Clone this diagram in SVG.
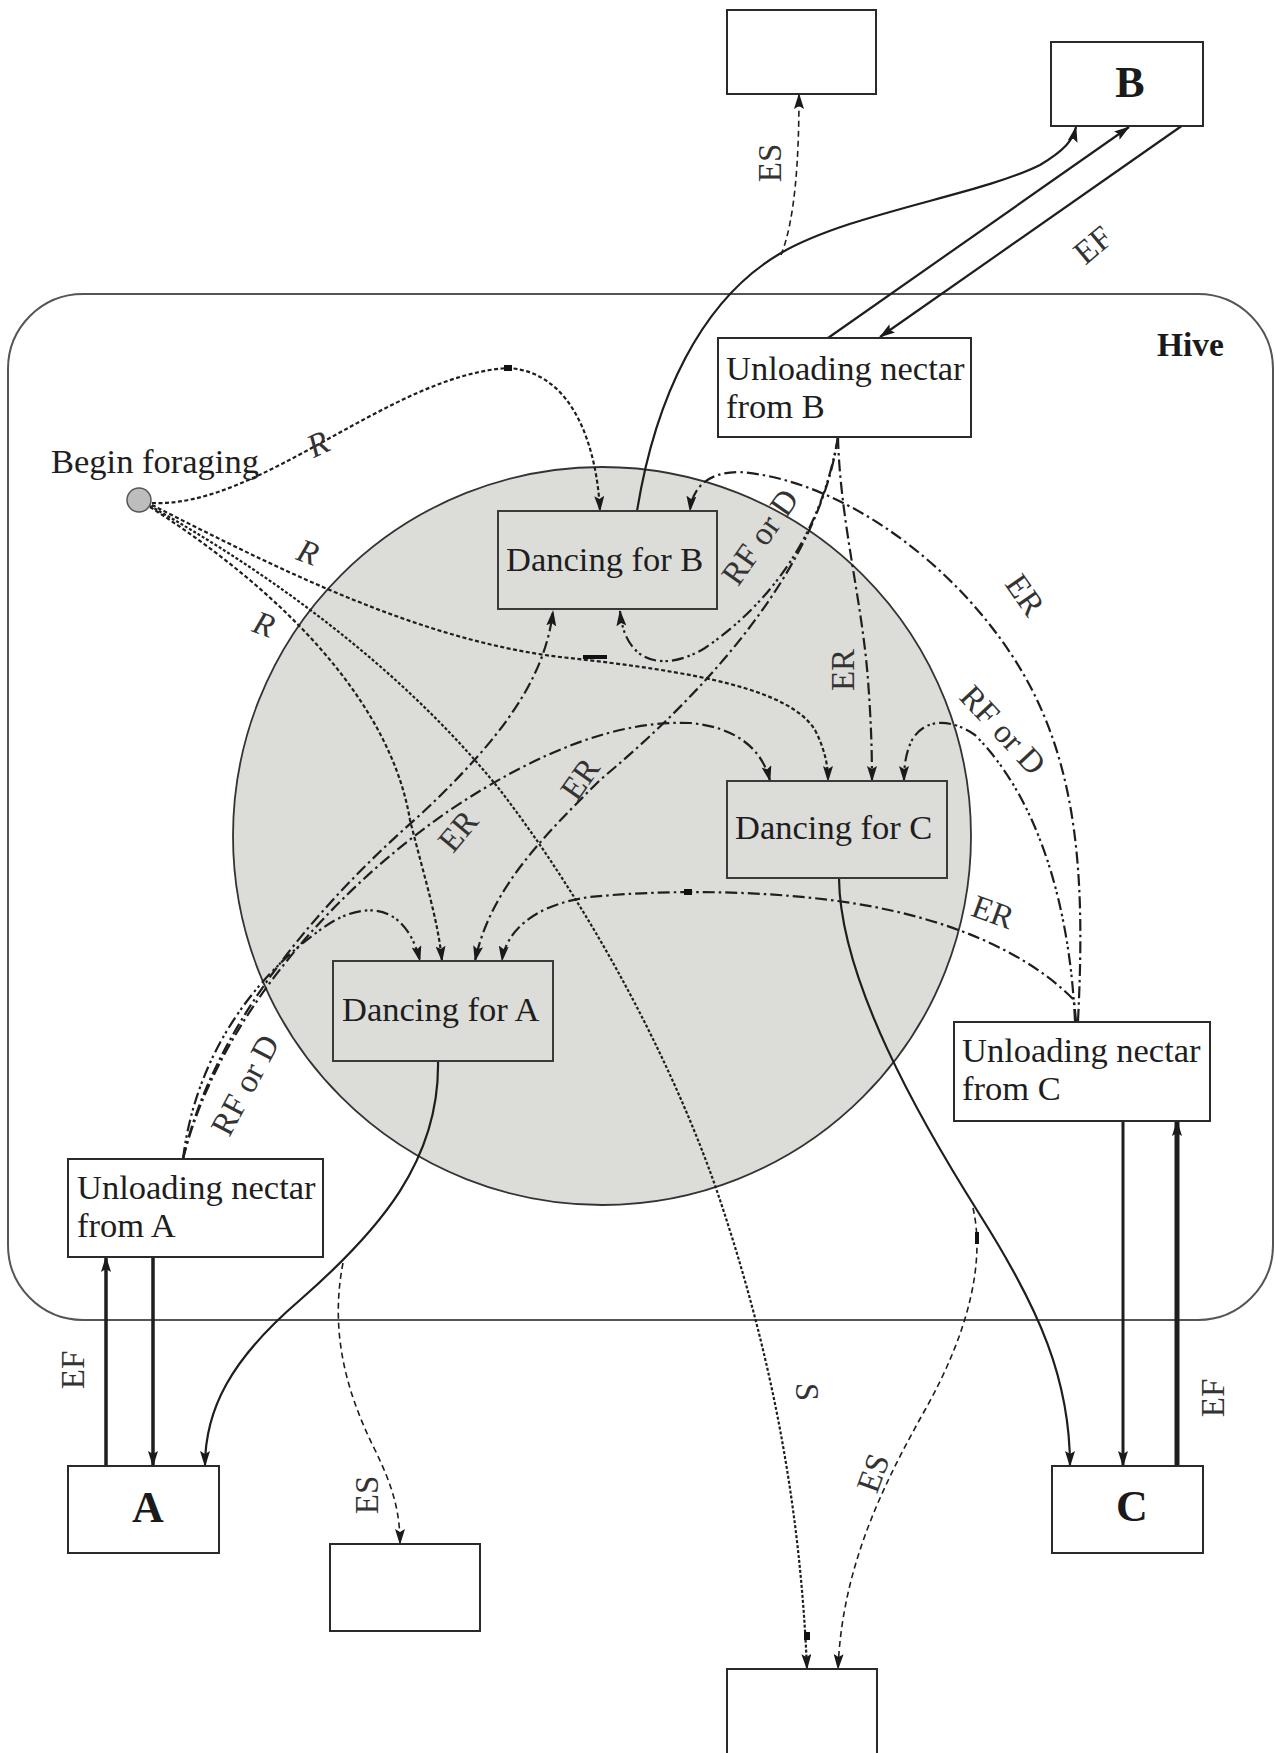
<svg xmlns="http://www.w3.org/2000/svg" width="1275" height="1753" viewBox="0 0 1275 1753">
<defs>
<marker id="ah" viewBox="0 0 16 10" refX="15" refY="5" markerWidth="16" markerHeight="10" markerUnits="userSpaceOnUse" orient="auto"><path d="M0,0 L16,5 L0,10 L3,5 z" fill="#1a1a1a"/></marker>
</defs>
<style>
.box{fill:#fff;stroke:#2a2a2a;stroke-width:2}
.dbox{fill:#dcdcd9;stroke:#3a3a3a;stroke-width:2}
.t{font-family:"Liberation Serif","Times New Roman",serif;font-size:34.5px;fill:#1e1e1e}
.lbl{font-family:"Liberation Serif","Times New Roman",serif;font-size:33px;fill:#333}
.it{font-style:italic}
.big{font-family:"Liberation Serif","Times New Roman",serif;font-size:44px;font-weight:bold;fill:#1a1a1a}
.hv{font-family:"Liberation Serif","Times New Roman",serif;font-size:33.5px;font-weight:bold;fill:#1a1a1a}
.c{fill:none;stroke:#1e1e1e;stroke-width:2.2}
.arr{marker-end:url(#ah)}
.r{stroke-dasharray:4 2.5}
.er{stroke-dasharray:12 4 2.5 4}
.rf{stroke-dasharray:12 4 2.5 3 2.5 4}
.es{stroke-width:1.6;stroke-dasharray:6 4}
.s{stroke-dasharray:3 2}
.mk{fill:#111}
</style>

<g id="background">
<rect id="hive" x="8" y="294" width="1265" height="1026" rx="75" fill="none" stroke="#555" stroke-width="2"/>
<circle cx="602" cy="836" r="369" fill="#dcdcd9" stroke="#333" stroke-width="1.8"/>
<text class="hv" x="1157" y="356">Hive</text>
</g>

<g id="connectors">
<!-- R from Begin foraging -->
<path class="c r arr" d="M152,503 C260,508 390,375 508,368 C575,372 597,450 600,511"/>
<path class="c r arr" d="M152,505 C280,570 420,640 560,657 C700,672 790,690 815,730 C825,750 828,765 828,781"/>
<path class="c r arr" d="M150,507 C280,590 390,700 410,820 C425,880 438,920 442,961"/>
<path class="c s arr" d="M150,506 C300,590 420,690 500,790 C600,920 680,1080 720,1200 C770,1350 800,1500 807,1669"/>
<rect class="mk" x="504" y="365" width="8" height="6"/>
<rect class="mk" x="583" y="655" width="24" height="4"/>
<rect class="mk" x="804" y="1632" width="6" height="8"/>

<!-- Dancing -> sites (solid) -->
<path class="c arr" d="M637,511 C655,400 700,300 781,253 C850,213 980,195 1040,165 C1065,150 1073,140 1076,127"/>
<path class="c es arr" d="M781,255 C795,220 799,160 799,94"/>
<path class="c arr" d="M438,1061 C440,1160 380,1230 300,1300 C230,1360 205,1410 205,1466"/>
<path class="c es arr" d="M343,1263 C330,1330 345,1390 375,1450 C392,1485 400,1510 400,1544"/>
<path class="c arr" d="M839,878 C840,980 920,1120 980,1215 C1040,1310 1070,1380 1070,1466"/>
<path class="c es arr" d="M973,1208 C985,1260 970,1330 925,1410 C880,1490 842,1570 838,1669"/>
<rect class="mk" x="975" y="1232" width="4" height="12"/>

<!-- Unloading <-> sites (EF) -->
<path class="c arr" d="M828,338 L1129,127"/>
<path class="c arr" d="M1183,125 L880,337"/>
<path class="c arr" style="stroke-width:3.5" d="M106,1466 L106,1257"/>
<path class="c arr" style="stroke-width:3.5" d="M153,1257 L153,1466"/>
<path class="c arr" style="stroke-width:3" d="M1123,1121 L1123,1466"/>
<path class="c arr" style="stroke-width:5" d="M1177,1466 L1177,1121"/>

<!-- From Unloading C -->
<path class="c er arr" d="M1078,1021 C1085,880 1080,760 1013,657 C950,560 840,480 740,472 C705,472 692,490 690,511"/>
<path class="c rf arr" d="M1075,1021 C1070,910 1040,800 975,735 C950,718 925,718 912,740 C906,752 904,765 904,781"/>
<path class="c er arr" d="M1076,1021 L1074,1000 C1030,955 950,915 830,900 C750,890 660,890 590,897 C530,905 505,935 502,961"/>
<rect class="mk" x="684" y="889" width="8" height="6"/>

<!-- From Unloading B -->
<path class="c er arr" d="M838,437 C840,520 862,600 868,680 C871,720 872,750 872,781"/>
<path class="c rf arr" d="M838,437 C822,530 775,600 705,648 C665,672 625,665 620,611"/>
<path class="c er arr" d="M838,437 C820,560 720,680 600,780 C540,840 490,890 475,961"/>

<!-- From Unloading A -->
<path class="c rf arr" d="M183,1159 C195,1060 250,980 320,930 C360,900 405,900 420,961"/>
<path class="c er arr" d="M183,1159 C210,1040 300,920 420,815 C500,740 545,680 553,611"/>
<path class="c er arr" d="M183,1159 C215,1030 320,900 450,810 C540,750 620,720 690,723 C735,727 762,748 770,781"/>

<!-- Labels -->
<text class="lbl it" transform="translate(318,444) rotate(-25)" x="0" y="11" text-anchor="middle">R</text>
<text class="lbl it" transform="translate(308,552) rotate(20)" x="0" y="11" text-anchor="middle">R</text>
<text class="lbl it" transform="translate(264,624) rotate(20)" x="0" y="11" text-anchor="middle">R</text>
<text class="lbl" transform="translate(807,1392) rotate(90)" x="0" y="11" text-anchor="middle">S</text>
<text class="lbl" transform="translate(770,163) rotate(-90)" x="0" y="11" text-anchor="middle">ES</text>
<text class="lbl" transform="translate(367,1495) rotate(-90)" x="0" y="11" text-anchor="middle">ES</text>
<text class="lbl" transform="translate(873,1473) rotate(-70)" x="0" y="11" text-anchor="middle">ES</text>
<text class="lbl" transform="translate(1093,245) rotate(-40)" x="0" y="11" text-anchor="middle">EF</text>
<text class="lbl" transform="translate(73,1370) rotate(-90)" x="0" y="11" text-anchor="middle">EF</text>
<text class="lbl" transform="translate(1213,1398) rotate(-90)" x="0" y="11" text-anchor="middle">EF</text>
<text class="lbl" transform="translate(1025,595) rotate(55)" x="0" y="11" text-anchor="middle">ER</text>
<text class="lbl" transform="translate(843,670) rotate(-90)" x="0" y="11" text-anchor="middle">ER</text>
<text class="lbl" transform="translate(580,779) rotate(-55)" x="0" y="11" text-anchor="middle">ER</text>
<text class="lbl" transform="translate(458,831) rotate(-50)" x="0" y="11" text-anchor="middle">ER</text>
<text class="lbl" transform="translate(993,912) rotate(20)" x="0" y="11" text-anchor="middle">ER</text>
<text class="lbl" transform="translate(760,537) rotate(-55)" x="0" y="11" text-anchor="middle">RF or D</text>
<text class="lbl" transform="translate(1003,730) rotate(47)" x="0" y="11" text-anchor="middle">RF or D</text>
<text class="lbl" transform="translate(245,1085) rotate(-62)" x="0" y="11" text-anchor="middle">RF or D</text>
</g>

<g id="begin-foraging">
<circle cx="139" cy="500" r="12" fill="#bdbdbd" stroke="#555" stroke-width="1.5"/>
<text class="t" x="51" y="473">Begin foraging</text>
</g>

<g id="dancing-b">
<rect class="dbox" x="498" y="511" width="219" height="98"/>
<text class="t" x="506" y="571">Dancing for B</text>
</g>
<g id="dancing-c">
<rect class="dbox" x="727" y="781" width="220" height="97"/>
<text class="t" x="735" y="839">Dancing for C</text>
</g>
<g id="dancing-a">
<rect class="dbox" x="333" y="961" width="220" height="100"/>
<text class="t" x="342" y="1021">Dancing for A</text>
</g>

<g id="unloading-b">
<rect class="box" x="718" y="338" width="253" height="99"/>
<text class="t" x="726" y="380">Unloading nectar</text>
<text class="t" x="726" y="418">from B</text>
</g>
<g id="unloading-c">
<rect class="box" x="954" y="1022" width="256" height="99"/>
<text class="t" x="962" y="1062">Unloading nectar</text>
<text class="t" x="962" y="1100">from C</text>
</g>
<g id="unloading-a">
<rect class="box" x="68" y="1159" width="255" height="98"/>
<text class="t" x="77" y="1199">Unloading nectar</text>
<text class="t" x="77" y="1237">from A</text>
</g>

<g id="site-a">
<rect class="box" x="68" y="1466" width="151" height="87"/>
<text class="big" x="148" y="1522" text-anchor="middle">A</text>
</g>
<g id="site-b">
<rect class="box" x="1051" y="42" width="152" height="84"/>
<text class="big" x="1130" y="97" text-anchor="middle">B</text>
</g>
<g id="site-c">
<rect class="box" x="1052" y="1466" width="151" height="87"/>
<text class="big" x="1132" y="1521" text-anchor="middle">C</text>
</g>

<g id="end-top">
<rect class="box" x="727" y="10" width="149" height="84"/>
</g>
<g id="end-left">
<rect class="box" x="330" y="1544" width="150" height="87"/>
</g>
<g id="end-bottom">
<rect class="box" x="727" y="1669" width="150" height="90"/>
</g>
</svg>
